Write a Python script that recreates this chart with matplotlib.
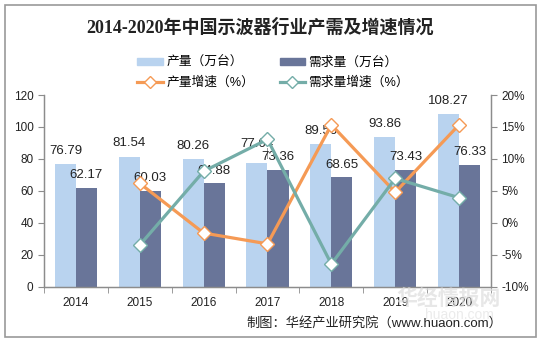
import numpy as np
import matplotlib
matplotlib.use("Agg")
import matplotlib.pyplot as plt
from matplotlib.patches import Rectangle
from matplotlib.lines import Line2D

plt.rcParams['font.family'] = ['Liberation Sans', 'Noto Sans CJK SC']

# 数据
years = ['2014', '2015', '2016', '2017', '2018', '2019', '2020']
output = [76.79, 81.54, 80.26, 77.64, 89.56, 93.86, 108.27]
demand = [62.17, 60.03, 64.88, 73.36, 68.65, 73.43, 76.33]
output_growth = [None, 6.19, -1.57, -3.26, 15.35, 4.80, 15.35]
demand_growth = [None, -3.44, 8.08, 13.07, -6.42, 6.96, 3.95]

c_out = '#B9D3EF'
c_dem = '#697599'
c_out_g = '#F59A55'
c_dem_g = '#74ADA8'
c_axis = '#8C8C8C'

fig = plt.figure(figsize=(5.41, 3.41), dpi=100)
ax = fig.add_axes([0.0813, 0.1584, 0.8263, 0.563])
ax2 = ax.twinx()

x = np.arange(len(years))
w = 0.33
ax.bar(x - w / 2, output, w, color=c_out, zorder=2)
ax.bar(x + w / 2, demand, w, color=c_dem, zorder=2)

for i in range(len(years)):
    off = 13.7 if i == 3 else 9.4
    ax.annotate(f'{output[i]:.2f}', (x[i] - w / 2, output[i]), xytext=(0, off),
                textcoords='offset points', ha='center', va='center',
                fontsize=9.5, color='#222222', zorder=5)
    ax.annotate(f'{demand[i]:.2f}', (x[i] + w / 2, demand[i]), xytext=(0, 9.0),
                textcoords='offset points', ha='center', va='center',
                fontsize=9.5, color='#222222', zorder=5)
# 2017 标签引线
ax.plot([x[3], x[3]], [output[3] + 3.2, output[3] + 9.5], color='#999999', lw=0.7, zorder=4)

gx = x[1:]
ax2.plot(gx, output_growth[1:], color=c_out_g, lw=2.3, marker='D', ms=7,
         mfc='white', mec=c_out_g, mew=1.0, zorder=3)
ax2.plot(gx, demand_growth[1:], color=c_dem_g, lw=2.3, marker='D', ms=7,
         mfc='white', mec=c_dem_g, mew=1.0, zorder=3)

ax.set_xlim(-0.5, len(years) - 0.5)
ax.set_ylim(0, 120)
ax.set_yticks(range(0, 121, 20))
ax2.set_ylim(-10, 20)
ax2.set_yticks(range(-10, 21, 5))
ax2.set_yticklabels([f'{v}%' for v in range(-10, 21, 5)])

ax.set_xticks(x)
ax.set_xticklabels(years)
ax.set_xticks(np.arange(-0.5, len(years), 1), minor=True)
ax.tick_params(axis='x', which='major', length=0, pad=7, labelsize=8.5, colors='#222222')
ax.tick_params(axis='x', which='minor', length=4, color=c_axis, direction='out')
ax.tick_params(axis='y', length=4, color=c_axis, labelsize=8.5, labelcolor='#222222')
ax2.tick_params(axis='y', length=4, color=c_axis, labelsize=8.5, labelcolor='#222222')

for a in (ax, ax2):
    a.spines['top'].set_visible(False)
    for s in ('left', 'right', 'bottom'):
        a.spines[s].set_color(c_axis)
        a.spines[s].set_linewidth(0.9)

# 标题
fig.text(0.48, 0.92, '2014-2020年中国示波器行业产需及增速情况', ha='center', va='center',
         fontsize=13, fontweight='bold', color='#222222',
         family=['Liberation Serif', 'Noto Sans CJK SC'])

# 图例
handles = [
    Rectangle((0, 0), 1, 1, color=c_out),
    Line2D([], [], color=c_out_g, lw=2.3, marker='D', ms=6, mfc='white', mec=c_out_g),
    Rectangle((0, 0), 1, 1, color=c_dem),
    Line2D([], [], color=c_dem_g, lw=2.3, marker='D', ms=6, mfc='white', mec=c_dem_g),
]
labels = ['产量（万台）', '产量增速（%）', '需求量（万台）', '需求量增速（%）']
fig.legend(handles, labels, ncol=2, loc='center', bbox_to_anchor=(0.505, 0.786),
           frameon=False, fontsize=9.2, handlelength=2.0, handleheight=0.45,
           columnspacing=2.0, labelspacing=0.6, handletextpad=0.25)

# 水印
fig.text(0.83, 0.125, '华经情报网', ha='center', va='center', fontsize=15,
         fontweight='bold', color='#DDDDDD', alpha=0.7, zorder=0)
fig.text(0.85, 0.075, 'huaon.com', ha='center', va='center', fontsize=10,
         color='#E3E3E3', alpha=0.7, zorder=0)

# 来源
fig.text(0.928, 0.052, '制图：华经产业研究院（www.huaon.com）', ha='right', va='center',
         fontsize=9.5, color='#222222')

# 外框
fig.patches.append(Rectangle((0.009, 0.012), 0.982, 0.974, transform=fig.transFigure,
                             fill=False, edgecolor='#999999', lw=1.2))

fig.savefig('out.png', dpi=100)
